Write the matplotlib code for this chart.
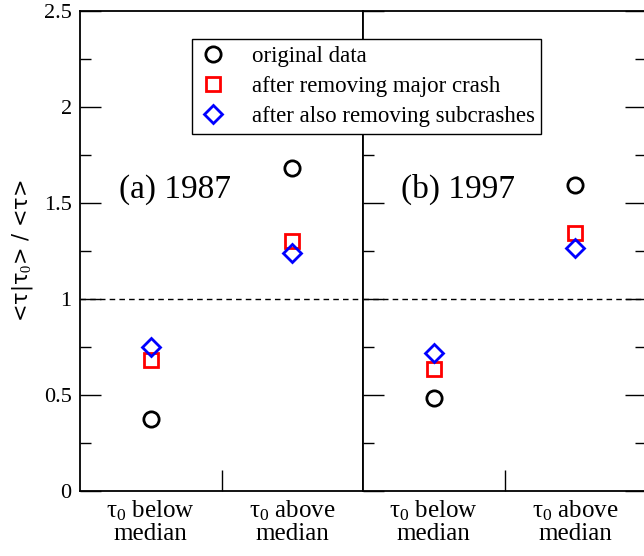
import numpy as np
import matplotlib
matplotlib.use("Agg")
import matplotlib.pyplot as plt
from matplotlib.ticker import MultipleLocator, FixedLocator, NullFormatter, FormatStrFormatter

plt.rcParams['font.family'] = ['Liberation Serif', 'DejaVu Serif']
plt.rcParams['mathtext.fontset'] = 'custom'
plt.rcParams['mathtext.rm'] = 'Liberation Serif'
plt.rcParams['mathtext.it'] = 'Liberation Serif:italic'
plt.rcParams['mathtext.sf'] = 'DejaVu Sans'

# data
categories = ["\u03c4$_0$ below\nmedian", "\u03c4$_0$ above\nmedian"]
panel_titles = ["(a) 1987", "(b) 1997"]
original_1987 = [0.375, 1.68]
major_1987 = [0.68, 1.30]
sub_1987 = [0.75, 1.24]
original_1997 = [0.485, 1.595]
major_1997 = [0.635, 1.345]
sub_1997 = [0.72, 1.265]
series_labels = ["original data", "after removing major crash",
                 "after also removing subcrashes"]

fig = plt.figure(figsize=(6.44, 5.56), dpi=100)
ax1 = fig.add_axes([80 / 644, 1 - 491 / 556, 283 / 644, 480 / 556])
ax2 = fig.add_axes([363 / 644, 1 - 491 / 556, 283 / 644, 480 / 556])

xpos = [0.5, 1.5]
panels = [(ax1, original_1987, major_1987, sub_1987),
          (ax2, original_1997, major_1997, sub_1997)]
handles = []
for i, (ax, orig, maj, sub) in enumerate(panels):
    h1, = ax.plot(xpos, orig, 'o', ms=11, mfc='none', mec='black', mew=2,
                  linestyle='none')
    h2, = ax.plot(xpos, maj, 's', ms=10.5, mfc='none', mec='red', mew=2,
                  linestyle='none')
    h3, = ax.plot(xpos, sub, 'D', ms=9, mfc='none', mec='blue', mew=2,
                  linestyle='none')
    if i == 0:
        handles = [h1, h2, h3]
    ax.axhline(1.0, color='black', lw=1, ls=(0, (4, 3)))
    ax.set_xlim(0, 2)
    ax.set_ylim(0, 2.5)
    ax.xaxis.set_major_locator(FixedLocator([1.0]))
    ax.xaxis.set_major_formatter(NullFormatter())
    ax.xaxis.set_minor_locator(FixedLocator(xpos))
    ax.set_xticklabels(categories, minor=True, linespacing=1.05)
    ax.tick_params(axis='x', which='major', direction='in', length=15,
                   width=1, top=False)
    ax.tick_params(axis='x', which='minor', length=0, labelsize=18, pad=5)
    ax.yaxis.set_major_locator(MultipleLocator(0.5))
    ax.yaxis.set_major_formatter(FormatStrFormatter('%g'))
    ax.yaxis.set_minor_locator(MultipleLocator(0.25))
    ax.tick_params(axis='y', which='major', direction='in', length=15,
                   width=1, labelsize=16, pad=6)
    ax.tick_params(axis='y', which='minor', direction='in', length=8,
                   width=1)
    for s in ax.spines.values():
        s.set_linewidth(1.3)
    ax.text(0.67, 1.57, panel_titles[i], fontsize=24, ha='center',
            va='center', transform=ax.transData)

ax1.tick_params(axis='y', which='both', right=False)
ax2.tick_params(axis='y', which='both', left=True, right=True,
                labelleft=False)
ax1.set_ylabel("<\u03c4|\u03c4$_0$> / <\u03c4>", fontsize=15,
               family='DejaVu Sans', labelpad=6)

leg = fig.legend(handles, series_labels, loc='upper left',
                 bbox_to_anchor=(192 / 644, 1 - 39 / 556), fontsize=16.5,
                 frameon=True, fancybox=False, edgecolor='black',
                 framealpha=1, handlelength=1.2, handletextpad=1.1,
                 labelspacing=0.4, borderpad=0.3, borderaxespad=0)
leg.get_frame().set_linewidth(1)

fig.savefig("out.png", dpi=100)
